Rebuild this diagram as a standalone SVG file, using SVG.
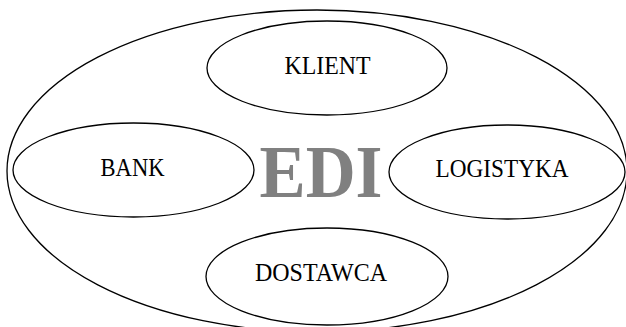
<svg xmlns="http://www.w3.org/2000/svg" width="626" height="327" viewBox="0 0 626 327">
<style>
.e{fill:none;stroke:#000;stroke-width:1.3}
.t{font-family:"Liberation Serif","Times New Roman",serif;font-size:24.5px;text-anchor:middle;fill:#000}
.edi{font-family:"Liberation Serif","Times New Roman",serif;font-size:74px;font-weight:bold;text-anchor:middle;fill:#808080}
</style>
<rect width="626" height="327" fill="#fff"/>
<g id="edi">
<ellipse class="e" cx="317" cy="171" rx="310" ry="161"/>
<text class="edi" x="321" y="196.5" textLength="123" lengthAdjust="spacingAndGlyphs">EDI</text>
</g>
<g id="klient">
<ellipse class="e" cx="327" cy="68" rx="120" ry="47"/>
<text class="t" x="327.5" y="73.5" textLength="86" lengthAdjust="spacingAndGlyphs">KLIENT</text>
</g>
<g id="bank">
<ellipse class="e" cx="133.5" cy="170" rx="120.5" ry="47"/>
<text class="t" x="132.5" y="176.2" textLength="64" lengthAdjust="spacingAndGlyphs">BANK</text>
</g>
<g id="logistyka">
<ellipse class="e" cx="507" cy="172" rx="118" ry="47"/>
<text class="t" x="502" y="176.8" textLength="133" lengthAdjust="spacingAndGlyphs">LOGISTYKA</text>
</g>
<g id="dostawca">
<ellipse class="e" cx="327" cy="276.5" rx="121" ry="48.5"/>
<text class="t" x="321" y="281" textLength="132" lengthAdjust="spacingAndGlyphs">DOSTAWCA</text>
</g>
<g id="connectors"/>
</svg>
